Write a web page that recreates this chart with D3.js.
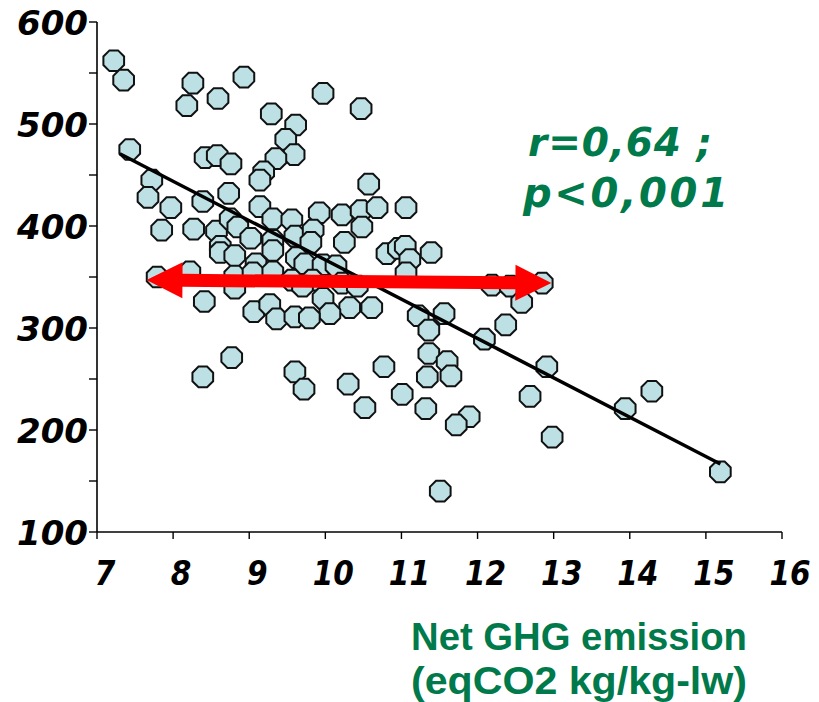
<!DOCTYPE html>
<html>
<head>
<meta charset="utf-8">
<script src="https://cdn.jsdelivr.net/npm/d3@7"></script>
<style>
  html, body { margin: 0; padding: 0; background: #ffffff; }
  svg { display: block; }
</style>
</head>
<body>
<svg id="chart" width="819" height="702"></svg>
<script>
// ---- data ----
const xTicks = [7, 8, 9, 10, 11, 12, 13, 14, 15, 16];
const yTicks = [100, 200, 300, 400, 500, 600];
const yMinorTicks = [100, 150, 200, 250, 300, 350, 400, 450, 500, 550, 600];
const xLabel = ["Net GHG emission", "(eqCO2 kg/kg-lw)"];
const statText = ["r=0,64 ;", "p<0,001"];

const emission = [
  7.22, 7.35, 8.26, 8.93, 8.18, 8.59, 9.29, 9.61, 9.97, 10.47,
  7.43, 8.42, 8.58, 8.76, 9.48, 9.59, 9.35, 9.19, 9.14, 7.72,
  7.67, 7.97, 8.39, 8.73, 7.85, 8.27, 8.57, 8.75, 8.85, 9.14,
  9.31, 9.56, 9.02, 9.31, 9.60, 8.62, 10.57, 9.92, 10.22, 10.47,
  10.68, 11.06, 10.48, 9.84, 10.25, 9.81, 10.81, 10.96, 11.05, 11.11,
  11.39, 11.06, 7.79, 8.22, 8.41, 8.62, 8.81, 8.81, 8.81, 9.09,
  9.05, 9.31, 9.31, 9.06, 9.27, 9.36, 9.60, 9.56, 9.62, 8.77,
  8.39, 9.60, 9.72, 9.73, 9.97, 10.14, 9.83, 10.22, 10.42, 9.97,
  10.32, 10.61, 10.06, 9.79, 12.19, 12.43, 12.85, 12.58, 11.22, 11.56,
  11.36, 12.37, 12.09, 11.36, 11.60, 11.65, 11.34, 12.91, 12.69, 12.98,
  10.30, 10.77, 10.52, 11.01, 11.32, 11.89, 11.72, 11.51, 13.94, 14.29,
  15.19, 9.70
];
const yieldVal = [
  562, 543, 540, 546, 518, 525, 510, 499, 530, 515,
  475, 467, 469, 461, 485, 470, 466, 453, 445, 445,
  428, 418, 424, 432, 396, 397, 395, 407, 399, 419,
  407, 406, 388, 386, 390, 380, 441, 413, 411, 415,
  418, 418, 399, 396, 384, 384, 373, 378, 380, 367,
  374, 354, 350, 355, 326, 374, 371, 351, 339, 363,
  354, 355, 376, 316, 323, 309, 311, 347, 369, 271,
  252, 257, 240, 363, 362, 361, 347, 344, 341, 329,
  320, 320, 314, 310, 342, 341, 344, 325, 312, 314,
  298, 303, 289, 275, 267, 253, 252, 262, 233, 193,
  245, 262, 222, 235, 221, 213, 205, 140, 221, 238,
  159, 341
];
// regression line y = a + b*x, drawn over the x range of the data
const regIntercept = 752.3;
const regSlope = -38.55;
const regRange = [7.30, 15.19];
// red double arrow (x, y in data units)
const arrowFrom = [7.65, 347];
const arrowTo = [12.97, 344];

// ---- chart ----
const svg = d3.select("#chart");
const x = d3.scaleLinear().domain([7, 16]).range([97, 782]);
const y = d3.scaleLinear().domain([100, 600]).range([532, 22]);

const ink = "#000000";
const green = "#00794b";

// y axis
const yAxis = svg.append("g").attr("transform", "translate(97,0)");
yAxis.append("line").attr("x1", 0).attr("x2", 0).attr("y1", y(600)).attr("y2", y(100))
  .attr("stroke", ink).attr("stroke-width", 1.6);
yAxis.selectAll("line.tk").data(yMinorTicks).join("line").attr("class", "tk")
  .attr("x1", -8).attr("x2", 0).attr("y1", d => y(d)).attr("y2", d => y(d))
  .attr("stroke", ink).attr("stroke-width", 1.4);
yAxis.selectAll("text").data(yTicks).join("text")
  .attr("x", -9).attr("y", d => y(d) + 12.5)
  .attr("text-anchor", "end")
  .attr("font-family", "DejaVu Sans, Verdana, sans-serif")
  .attr("font-weight", "bold").attr("font-style", "italic")
  .attr("font-size", 34).attr("fill", ink)
  .text(d => d);

// x axis
const xAxis = svg.append("g").attr("transform", `translate(0,${y(100)})`);
xAxis.append("line").attr("x1", x(7)).attr("x2", x(16)).attr("y1", 0).attr("y2", 0)
  .attr("stroke", ink).attr("stroke-width", 1.6);
xAxis.selectAll("line.tk").data(xTicks).join("line").attr("class", "tk")
  .attr("x1", d => x(d)).attr("x2", d => x(d)).attr("y1", 0).attr("y2", 7)
  .attr("stroke", ink).attr("stroke-width", 1.4);
xAxis.selectAll("text").data(xTicks).join("text")
  .attr("transform", d => `translate(${x(d) + 8},53) scale(0.87,1)`)
  .attr("text-anchor", "middle")
  .attr("font-family", "DejaVu Sans, Verdana, sans-serif")
  .attr("font-weight", "bold").attr("font-style", "italic")
  .attr("font-size", 34).attr("fill", ink)
  .text(d => d);

// points (octagons)
const R = 11.2;
const octagon = d3.range(8).map(k => {
  const a = (22.5 + 45 * k) * Math.PI / 180;
  return [R * Math.cos(a), R * Math.sin(a)];
});
const octPath = d3.line()(octagon) + "Z";
const pts = emission.map((e, i) => ({ x: e, y: yieldVal[i] }));
svg.append("g").selectAll("path").data(pts).join("path")
  .attr("d", octPath)
  .attr("transform", d => `translate(${x(d.x)},${y(d.y)})`)
  .attr("fill", "#bce0e3").attr("stroke", "#111").attr("stroke-width", 2);

// regression line
svg.append("line")
  .attr("x1", x(regRange[0])).attr("y1", y(regIntercept + regSlope * regRange[0]))
  .attr("x2", x(regRange[1])).attr("y2", y(regIntercept + regSlope * regRange[1]))
  .attr("stroke", ink).attr("stroke-width", 3.4);

// red double-headed arrow
(function () {
  const x1 = x(arrowFrom[0]), y1 = y(arrowFrom[1]);
  const x2 = x(arrowTo[0]), y2 = y(arrowTo[1]);
  const dx = x2 - x1, dy = y2 - y1, L = Math.hypot(dx, dy);
  const ux = dx / L, uy = dy / L, nx = -uy, ny = ux;
  const hl = 36, hw = 18, sw = 6.5;
  const P = (s, t) => [x1 + ux * s + nx * t, y1 + uy * s + ny * t];
  const poly = [
    P(0, 0), P(hl, hw), P(hl, sw), P(L - hl, sw), P(L - hl, hw), P(L, 0),
    P(L - hl, -hw), P(L - hl, -sw), P(hl, -sw), P(hl, -hw)
  ];
  svg.append("path").attr("d", d3.line()(poly) + "Z").attr("fill", "#ff0000");
})();

// statistics text
svg.append("text").attr("x", 528).attr("y", 156)
  .attr("font-family", "DejaVu Sans, Verdana, sans-serif")
  .attr("font-weight", "bold").attr("font-style", "italic")
  .attr("font-size", 39).attr("fill", green)
  .attr("textLength", 184).attr("lengthAdjust", "spacing")
  .text(statText[0]);
svg.append("text").attr("x", 523).attr("y", 207)
  .attr("font-family", "DejaVu Sans, Verdana, sans-serif")
  .attr("font-weight", "bold").attr("font-style", "italic")
  .attr("font-size", 40).attr("fill", green)
  .attr("textLength", 205).attr("lengthAdjust", "spacing")
  .text(statText[1]);

// axis title
svg.append("text").attr("x", 579).attr("y", 650).attr("text-anchor", "middle")
  .attr("font-family", "Liberation Sans, Arial, sans-serif").attr("font-weight", "bold")
  .attr("font-size", 38).attr("fill", green)
  .attr("textLength", 336).attr("lengthAdjust", "spacingAndGlyphs")
  .text(xLabel[0]);
svg.append("text").attr("x", 579).attr("y", 694).attr("text-anchor", "middle")
  .attr("font-family", "Liberation Sans, Arial, sans-serif").attr("font-weight", "bold")
  .attr("font-size", 38).attr("fill", green)
  .attr("textLength", 336).attr("lengthAdjust", "spacingAndGlyphs")
  .text(xLabel[1]);
</script>
</body>
</html>
